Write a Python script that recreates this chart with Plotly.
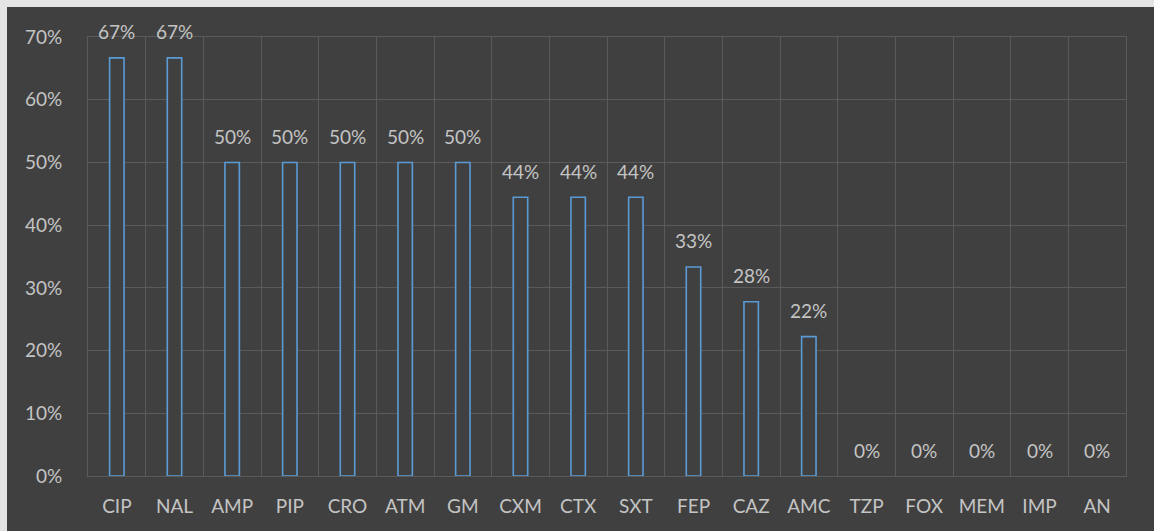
import plotly.graph_objects as go

categories = ["CIP", "NAL", "AMP", "PIP", "CRO", "ATM", "GM", "CXM", "CTX", "SXT",
              "FEP", "CAZ", "AMC", "TZP", "FOX", "MEM", "IMP", "AN"]
values = [0.6667, 0.6667, 0.5, 0.5, 0.5, 0.5, 0.5, 0.4444, 0.4444, 0.4444,
          0.3333, 0.2778, 0.2222, 0, 0, 0, 0, 0]
labels = [f"{round(v * 100)}%" for v in values]

BG = "#404040"
GRID = "#5a5a5a"
TXT = "#c4c4c4"
FONT = "Lato"
FS = 19

fig = go.Figure()
fig.add_trace(go.Bar(
    x=categories, y=values,
    marker=dict(color=BG, line=dict(color="#5B9BD5",
                                    width=[1.6 if v > 0 else 0 for v in values])),
    hoverinfo="skip",
))

for c, v, t in zip(categories, values, labels):
    fig.add_annotation(x=c, y=v, text=t, showarrow=False, yshift=26,
                       yanchor="middle", font=dict(family=FONT, size=FS, color=TXT))

# light frame at top and left edges
L, R, T, B = 88, 28, 37, 55
W, H = 1154 - L - R, 531 - T - B
fig.add_shape(type="rect", xref="paper", yref="paper", x0=-L / W, x1=(7 - L) / W,
              y0=-B / H, y1=(H + T) / H, fillcolor="#e4e4e4", line_width=0, layer="below")
fig.add_shape(type="rect", xref="paper", yref="paper", x0=-L / W, x1=(W + R) / W,
              y0=(H + T - 7) / H, y1=(H + T) / H, fillcolor="#e4e4e4", line_width=0, layer="below")

fig.update_layout(
    width=1154, height=531,
    margin=dict(l=L, r=R, t=T, b=B, pad=0),
    paper_bgcolor=BG, plot_bgcolor=BG,
    bargap=0.75, showlegend=False,
    font=dict(family=FONT, size=FS, color=TXT),
)
fig.update_xaxes(
    type="category", tickson="boundaries", showgrid=True, gridcolor=GRID, gridwidth=1,
    showline=True, linecolor=GRID, linewidth=1, mirror=True, ticks="",
    ticklabelstandoff=13, tickfont=dict(family=FONT, size=FS, color=TXT),
)
fig.update_yaxes(
    range=[0, 0.7], dtick=0.1, tickformat=".0%", showgrid=True, gridcolor=GRID,
    gridwidth=1, zeroline=False, showline=True, linecolor=GRID, linewidth=1, mirror=True,
    ticks="", ticklabelstandoff=21, tickfont=dict(family=FONT, size=FS, color=TXT),
)

fig.write_html("out.html")
